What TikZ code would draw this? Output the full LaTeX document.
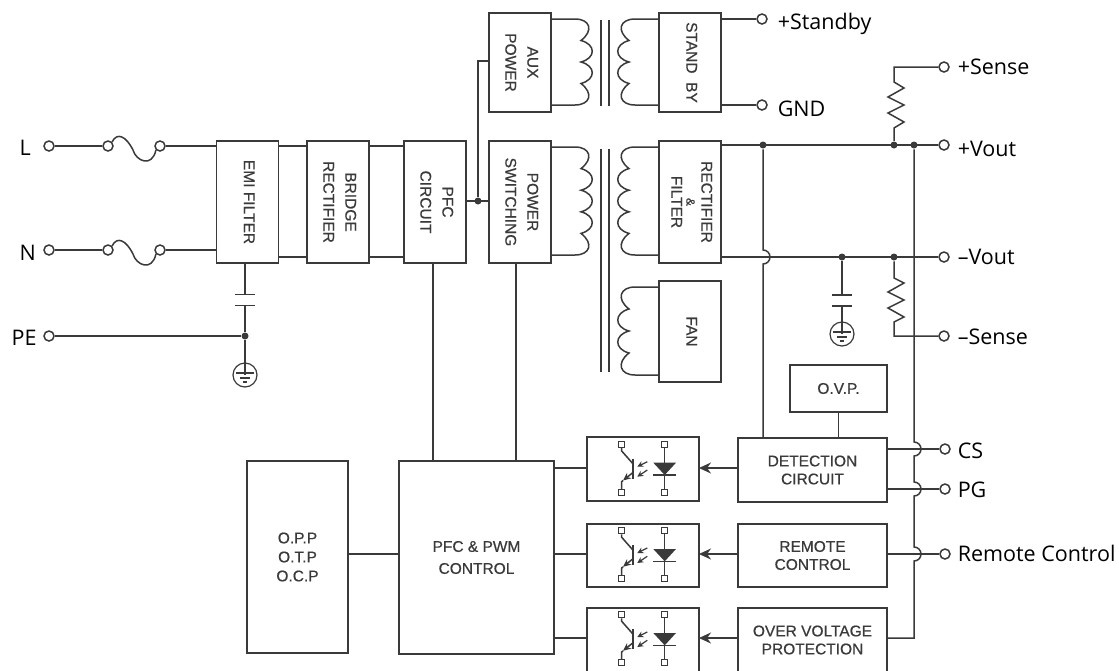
\documentclass[tikz,border=0pt]{standalone}
\usepackage{fontspec}
\setmainfont{Liberation Sans}[RawFeature={embolden=0.6}]
\newfontfamily\labelfont{Open Sans}
\usetikzlibrary{arrows.meta}
\definecolor{wire}{HTML}{3A3A3A}

\newcommand{\vlabel}[1]{\rotatebox{-90}{\begin{tabular}{@{}c@{}}#1\end{tabular}}}
\newcommand{\hop}{arc[start angle=-90,end angle=90,radius=7]}
% box side, first y, last y, direction, turns between the two end turns
\newcommand{\coil}[5]{
\pgfmathsetmacro\turn{(#3-#2)/(#5+2)}
\draw (#1 |- 0,#2) -- ++(#4*24,0) .. controls +(#4*15,0) and +(#4*13,-10) .. ++(#4*6,\turn)
\foreach \k in {1,...,#5} { .. controls +(#4*15,4) and +(#4*15,-4) .. ++(0,\turn) }
.. controls +(#4*13,10) and +(#4*15,0) .. ++(#4*-6,\turn) -- (#1 |- 0,#3);
}
\newcommand{\fuse}[2]{
\draw (#1.north east) .. controls +(5,-10) and +(-7,-14) .. ([shift={(25,4)}]#1.center)
.. controls +(3,11) and +(-4,18) .. (#2.south west);
}
\newcommand{\plates}[1]{\draw (#1.north west) -- (#1.north east) (#1.south west) -- (#1.south east);}

\tikzset{
block/.style={draw,rectangle,inner sep=0,outer sep=0,text=wire,align=center,font=\fontsize{15.5}{18}\selectfont},
term/.style={draw,circle,fill=white,inner sep=0,minimum size=10},
dot/.style={circle,fill,inner sep=0,minimum size=7},
pin/.style={draw,rectangle,fill=white,inner sep=0,minimum size=6,line width=1pt},
tag/.style={anchor=base west,inner sep=0,text=black,font=\labelfont\fontsize{21.5}{24}\selectfont},
capgap/.style={rectangle,inner sep=0,outer sep=0,minimum width=20,minimum height=11},
earth/.style={draw,circle,inner sep=0,minimum size=24,line width=1.2pt,path picture={
\draw[line width=1.2pt] ([xshift=-9pt,yshift=2pt]path picture bounding box.center) -- +(18pt,0);
\draw[line width=1.2pt] ([xshift=-5pt,yshift=-3pt]path picture bounding box.center) -- +(10pt,0);
\draw[line width=1.2pt] ([xshift=-2pt,yshift=-7pt]path picture bounding box.center) -- +(4pt,0);}},
feed/.style={-{Stealth[length=12pt,width=11pt]}},
pics/opto/.style={code={
\node [pin] (-c) at (-21.3,-24) {};
\node [pin] (-e) at (-21.3,24) {};
\node [pin] (-a) at (21.3,-24) {};
\node [pin] (-k) at (21.3,24) {};
\draw (-c) -- (-21.3,-17.5) -- (-10.3,-5);
\draw [line width=2pt] (-10.3,-10) -- (-10.3,10);
\draw [-{Stealth[length=8pt,width=7pt]}] (-10.3,4.2) -- (-20,12);
\draw (-20,12) -- (-21.3,13.2) -- (-e);
\draw (-a) -- (-k);
\fill (10.3,-5.8) -- (33,-5.8) -- (21.7,6.5) -- cycle;
\draw (10.3,6.5) -- (33,6.5);
\draw [line width=1.2pt,-{Stealth[length=6pt,width=6pt]}] (4.3,-6.8) -- (-5.7,-1.8);
\draw [line width=1.2pt,-{Stealth[length=6pt,width=6pt]}] (4.3,1.5) -- (-5.7,8.2);
}}
}

\begin{document}
\begin{tikzpicture}[x=1pt,y=-1pt,line width=1.5pt,color=wire]
\useasboundingbox (0,0) rectangle (1119,670);
\clip (0,0) rectangle (1119,670);
\fill [white] (0,0) rectangle (1119,670);
\coordinate (railtop) at (0,146);
\coordinate (railbot) at (0,257);
% blocks
\node [block,minimum width=62,minimum height=122] (emi) at (247.5,202) {\vlabel{EMI FILTER}};
\node [block,minimum width=62,minimum height=122] (bridge) at (338,202) {\vlabel{BRIDGE\\[4pt]RECTIFIER}};
\node [block,minimum width=62,minimum height=122] (pfc) at (435,202) {\vlabel{PFC\\[4pt]CIRCUIT}};
\node [block,minimum width=62,minimum height=99] (aux) at (520,62.5) {\vlabel{AUX\\[4pt]POWER}};
\node [block,minimum width=62,minimum height=122] (switch) at (520,202) {\vlabel{POWER\\[4pt]SWITCHING}};
\node [block,minimum width=62,minimum height=99] (standby) at (690,62.5) {\vlabel{STAND\ \ BY}};
\node [block,minimum width=62,minimum height=122] (rect) at (690,202) {\vlabel{RECTIFIER\\[-3pt]{\fontsize{12}{14}\selectfont\&}\\[-3pt]FILTER}};
\node [block,minimum width=62,minimum height=101] (fan) at (690,331.5) {\vlabel{FAN}};
\node [block,minimum width=97,minimum height=47] (ovp) at (838.5,388.5) {O.V.P.};
\node [block,minimum width=149,minimum height=64] (det) at (812.5,470) {DETECTION\\CIRCUIT};
\node [block,minimum width=149,minimum height=63] (remote) at (812.5,555.5) {REMOTE\\CONTROL};
\node [block,minimum width=149,minimum height=64] (over) at (812.5,640) {OVER VOLTAGE\\PROTECTION};
\node [block,minimum width=112,minimum height=64] (opta) at (643,469) {};
\node [block,minimum width=112,minimum height=63] (optb) at (643,555.5) {};
\node [block,minimum width=112,minimum height=64] (optc) at (643,640) {};
\node [block,minimum width=155,minimum height=193] (pwm) at (476.5,557.5) {PFC \& PWM\\[4pt]CONTROL};
\node [block,minimum width=101,minimum height=192] (opp) at (297.5,557) {O.P.P\\[1pt]O.T.P\\[1pt]O.C.P};
\pic at (643,468.5) {opto};
\pic at (643,554.8) {opto};
\pic at (643,638.8) {opto};
% terminals
\node [term] (l) at (49,146) {};
\node [term] (lfa) at (108,146) {};
\node [term] (lfb) at (160,146) {};
\node [term] (n) at (49,250) {};
\node [term] (nfa) at (108,250) {};
\node [term] (nfb) at (160,250) {};
\node [term] (pe) at (49,336) {};
\node [term] (stby) at (762,19) {};
\node [term] (gnd) at (762,105) {};
\node [term] (sensep) at (944,67) {};
\node [term] (voutp) at (944,145) {};
\node [term] (voutn) at (944,257) {};
\node [term] (sensen) at (944,336) {};
\node [term] (cs) at (945,449) {};
\node [term] (pg) at (945,489) {};
\node [term] (rc) at (945,554) {};
% junctions
\node [dot] (jpe) at (245,336) {};
\node [dot] (jpfc) at (478,201) {};
\node [dot] (jdet) at (763,145) {};
\node [dot] (jsp) at (894,145) {};
\node [dot] (jrail) at (914,145) {};
\node [dot] (jcap) at (842,257) {};
\node [dot] (jsn) at (894,257) {};
% filter caps and earth
\node [capgap] (capa) at (245,300) {};
\node [capgap] (capb) at (842,300.5) {};
\node [earth] (gnda) at (245,375) {};
\node [earth] (gndb) at (842,334) {};
\plates{capa}
\plates{capb}
% text
\node [tag] (tl) at (19,155) {L};
\node [tag] (tn) at (19,260) {N};
\node [tag] (tpe) at (11,345) {PE};
\node [tag] (tstby) at (777,29) {+Standby};
\node [tag] (tgnd) at (777,116) {GND};
\node [tag] (tsp) at (957,74) {+Sense};
\node [tag] (tvp) at (957,156) {+Vout};
\node [tag] (tvn) at (957,264) {–Vout};
\node [tag] (tsn) at (957,344) {–Sense};
\node [tag] (tcs) at (957,458) {CS};
\node [tag] (tpg) at (957,497) {PG};
\node [tag] (trc) at (957,561) {Remote Control};
% input side
\draw (l) -- (lfa);
\fuse{lfa}{lfb}
\draw (lfb) -- (emi.west |- lfb);
\draw (n) -- (nfa);
\fuse{nfa}{nfb}
\draw (nfb) -- (emi.west |- nfb);
\draw (pe) -- (jpe);
\draw (jpe |- emi.south) -- (capa.north);
\draw (capa.south) -- (jpe);
\draw (jpe) -- (gnda.center);
\draw (emi.east |- railtop) -- (bridge.west |- railtop);
\draw (emi.east |- railbot) -- (bridge.west |- railbot);
\draw (bridge.east |- railtop) -- (pfc.west |- railtop);
\draw (bridge.east |- railbot) -- (pfc.west |- railbot);
\draw (pfc.east |- jpfc) -- (switch.west |- jpfc);
\draw (jpfc) |- (aux.west |- 0,61);
% transformers
\coil{aux.east}{19}{105}{1}{2}
\coil{standby.west}{19}{105}{-1}{2}
\coil{switch.east}{147}{255}{1}{3}
\coil{rect.west}{147}{255}{-1}{3}
\coil{fan.west}{287}{375}{-1}{2}
\draw (601,20) -- (601,106);
\draw (609,20) -- (609,106);
\draw (601,149) -- (601,372);
\draw (609,149) -- (609,372);
% output side
\draw (standby.east |- stby) -- (stby);
\draw (standby.east |- gnd) -- (gnd);
\draw (rect.east |- voutp) -- (voutp);
\draw (rect.east |- voutn) -- (voutn);
\draw (jsp) -- ++(0,-17) -- ++(10,-6) -- ++(-16,-9) -- ++(16,-8) -- ++(-16,-8) -- ++(16,-9) -- ++(-10,-6) |- (sensep);
\draw (jsn) -- ++(0,21) -- ++(10,5) -- ++(-16,9) -- ++(16,8) -- ++(-16,8) -- ++(16,9) -- ++(-10,5) |- (sensen);
\draw (jcap) -- (capb.north);
\draw (capb.south) -- (gndb.center);
\draw (jdet) -- (763,250) \hop -- (jdet |- det.north);
\draw (jrail) -- (914,442) \hop -- (914,482) \hop -- (914,547) \hop |- (over.east |- 0,638);
\draw (ovp.south) -- (ovp.south |- det.north);
\draw (det.east |- cs) -- (cs);
\draw (det.east |- pg) -- (pg);
\draw (remote.east |- rc) -- (rc);
% control side
\draw (433,263) -- (433,461);
\draw (516,263) -- (516,461);
\draw (opp.east |- 0,554) -- (pwm.west |- 0,554);
\draw (pwm.east |- 0,468) -- (opta.west |- 0,468);
\draw (pwm.east |- 0,554) -- (optb.west |- 0,554);
\draw (pwm.east |- 0,638) -- (optc.west |- 0,638);
\draw [feed] (det.west |- 0,468) -- (opta.east |- 0,468);
\draw [feed] (remote.west |- 0,554) -- (optb.east |- 0,554);
\draw [feed] (over.west |- 0,638) -- (optc.east |- 0,638);
\end{tikzpicture}
\end{document}
